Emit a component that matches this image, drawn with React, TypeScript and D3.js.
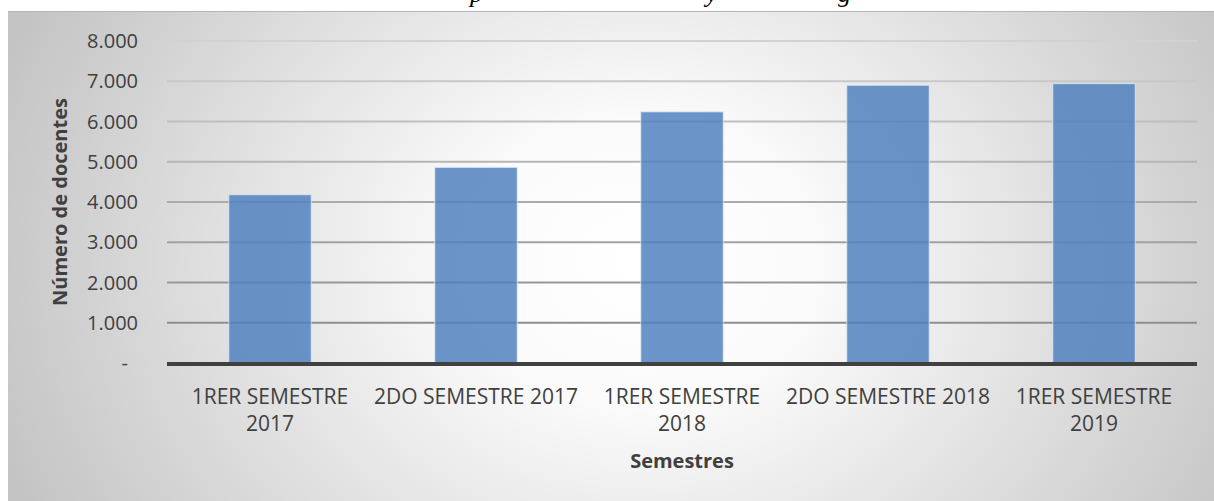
import React, { useEffect, useRef } from 'react';
import * as d3 from 'd3';

// datos del grafico
const categories = ['1RER SEMESTRE 2017', '2DO SEMESTRE 2017', '1RER SEMESTRE 2018', '2DO SEMESTRE 2018', '1RER SEMESTRE 2019'];
const categoryLines = [['1RER SEMESTRE', '2017'], ['2DO SEMESTRE 2017'], ['1RER SEMESTRE', '2018'], ['2DO SEMESTRE 2018'], ['1RER SEMESTRE', '2019']];
const docentes = [4180, 4860, 6240, 6900, 6940];
const yTicks = [0, 1000, 2000, 3000, 4000, 5000, 6000, 7000, 8000];
const yTickLabels = ['-', '1.000', '2.000', '3.000', '4.000', '5.000', '6.000', '7.000', '8.000'];
// titulo recortado arriba: solo se ven las colas de estas letras
const titleFragments = ['p', 'y', 'g'];
const titleFragmentX = [470, 706, 838];

const W = 1214;
const H = 501;
const FONT = "'Open Sans', sans-serif";

export default function App() {
  const box = useRef<SVGSVGElement>(null);

  useEffect(() => {
    const svg = d3.select(box.current);
    svg.selectAll('*').remove();

    const defs = svg.append('defs');
    const bg = defs.append('radialGradient')
      .attr('id', 'bg')
      .attr('cx', 0.52).attr('cy', 0.5).attr('r', 0.56)
      .attr('gradientTransform', 'translate(0.52 0.5) scale(1 2) translate(-0.52 -0.5)');
    bg.append('stop').attr('offset', '0%').attr('stop-color', '#ffffff');
    bg.append('stop').attr('offset', '25%').attr('stop-color', '#fbfbfb');
    bg.append('stop').attr('offset', '100%').attr('stop-color', '#c4c4c4');

    const x = d3.scaleBand<string>()
      .domain(categories)
      .range([167, 1197])
      .paddingInner(0.6)
      .paddingOuter(0.3);
    const y = d3.scaleLinear().domain([0, 8000]).range([363, 41]);

    const grid = defs.append('linearGradient')
      .attr('id', 'grid')
      .attr('gradientUnits', 'userSpaceOnUse')
      .attr('x1', 0).attr('x2', 0)
      .attr('y1', y(8000)).attr('y2', y(1000));
    grid.append('stop').attr('offset', '0%').attr('stop-color', '#d2d2d2');
    grid.append('stop').attr('offset', '100%').attr('stop-color', '#8e8e8e');

    // fragmentos del titulo
    svg.append('g').selectAll('text')
      .data(titleFragments)
      .enter()
      .append('text')
      .attr('x', (d, i) => titleFragmentX[i])
      .attr('y', 2)
      .attr('font-family', "'Liberation Serif', serif")
      .attr('font-style', 'italic')
      .attr('font-size', 26)
      .attr('fill', '#000')
      .text(d => d);

    // area del grafico
    svg.append('rect')
      .attr('x', 8).attr('y', 11)
      .attr('width', W).attr('height', H)
      .attr('fill', 'url(#bg)');
    svg.append('line')
      .attr('x1', 8).attr('x2', W)
      .attr('y1', 11.5).attr('y2', 11.5)
      .attr('stroke', '#b4b4b4');

    // lineas de division
    svg.append('g').selectAll('line')
      .data(yTicks.filter(t => t > 0))
      .enter()
      .append('line')
      .attr('x1', 167).attr('x2', 1197)
      .attr('y1', d => y(d)).attr('y2', d => y(d))
      .attr('stroke', 'url(#grid)')
      .attr('stroke-width', 1.8);

    // barras
    svg.append('g').selectAll('rect')
      .data(docentes)
      .enter()
      .append('rect')
      .attr('x', (d, i) => x(categories[i])!)
      .attr('y', d => y(d))
      .attr('width', x.bandwidth())
      .attr('height', d => y(0) - y(d))
      .attr('fill', '#4f81bd')
      .attr('fill-opacity', 0.84)
      .attr('stroke', '#dfe8f4')
      .attr('stroke-opacity', 0.8)
      .attr('stroke-width', 1);

    // eje
    svg.append('line')
      .attr('x1', 167).attr('x2', 1197)
      .attr('y1', y(0) + 1).attr('y2', y(0) + 1)
      .attr('stroke', '#404040')
      .attr('stroke-width', 4);

    // etiquetas eje y
    svg.append('g').selectAll('text')
      .data(yTicks)
      .enter()
      .append('text')
      .attr('x', d => (d === 0 ? 128 : 138))
      .attr('y', d => y(d) + 7)
      .attr('text-anchor', 'end')
      .attr('font-family', FONT)
      .attr('font-size', 20)
      .attr('fill', '#404040')
      .text((d, i) => yTickLabels[i]);

    // etiquetas eje x
    const xl = svg.append('g').selectAll('text')
      .data(categories)
      .enter()
      .append('text')
      .attr('text-anchor', 'middle')
      .attr('font-family', FONT)
      .attr('font-size', 21)
      .attr('fill', '#404040');
    xl.each(function (d, i) {
      const t = d3.select(this);
      categoryLines[i].forEach((line, j) => {
        t.append('tspan')
          .attr('x', x(d)! + x.bandwidth() / 2)
          .attr('y', 404 + j * 27)
          .text(line);
      });
    });

    // titulos de ejes
    svg.append('text')
      .attr('x', 682)
      .attr('y', 468)
      .attr('text-anchor', 'middle')
      .attr('font-family', FONT)
      .attr('font-weight', 700)
      .attr('font-size', 20)
      .attr('fill', '#404040')
      .text('Semestres');
    svg.append('text')
      .attr('transform', 'translate(67,202) rotate(-90)')
      .attr('text-anchor', 'middle')
      .attr('font-family', FONT)
      .attr('font-weight', 700)
      .attr('font-size', 20)
      .attr('fill', '#404040')
      .text('Número de docentes');
  }, []);

  return (
    <svg
      ref={box}
      width={W}
      height={H}
      style={{ position: 'absolute', left: 0, top: 0, display: 'block', background: '#fff' }}
    />
  );
}
